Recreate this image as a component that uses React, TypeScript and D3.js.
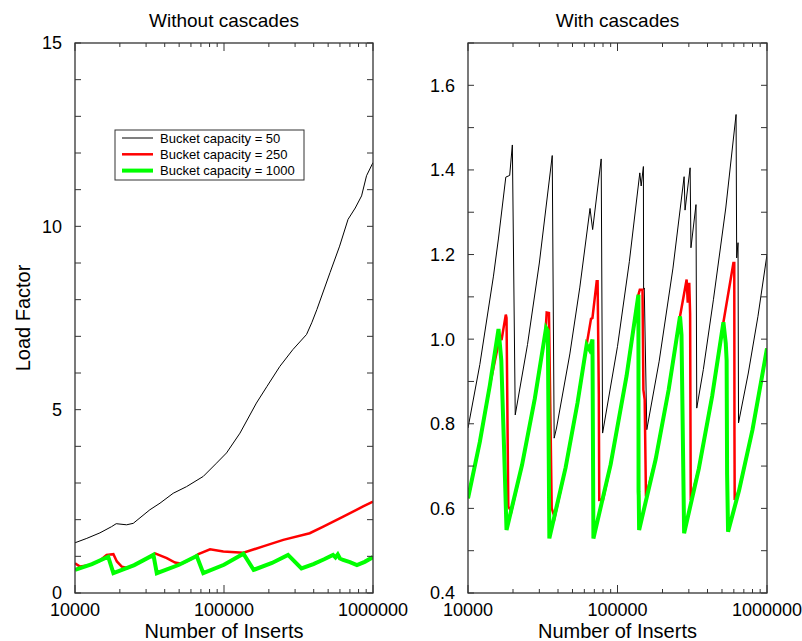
import React from 'react';
import * as d3 from 'd3';

// left panel: without cascades
const leftX50 = [10000, 12000, 14700, 17600, 18900, 22200, 24600, 31800, 37200, 45600, 56000, 72600, 89000, 104000, 128000, 165000, 194000, 237000, 290000, 358000, 388000, 420000, 515000, 597000, 680000, 760000, 838000, 905000, 1000000];
const leftY50 = [1.37, 1.49, 1.64, 1.81, 1.89, 1.86, 1.9, 2.27, 2.45, 2.72, 2.9, 3.18, 3.54, 3.82, 4.36, 5.18, 5.63, 6.18, 6.64, 7.05, 7.37, 7.73, 8.74, 9.46, 10.19, 10.5, 10.83, 11.38, 11.74];

const leftX250 = [10000, 10800, 12500, 14500, 16300, 18100, 19100, 20600, 22500, 24000, 29000, 34400, 41300, 46900, 52000, 60000, 67300, 80600, 99000, 135000, 183000, 250000, 376000, 464000, 631000, 858000, 1000000];
const leftY250 = [0.81, 0.72, 0.76, 0.87, 1.04, 1.06, 0.86, 0.72, 0.68, 0.73, 0.89, 1.08, 0.95, 0.83, 0.8, 0.92, 1.06, 1.19, 1.13, 1.1, 1.27, 1.45, 1.63, 1.81, 2.08, 2.36, 2.49];

const leftX1000 = [10000, 13000, 16700, 18100, 25000, 33600, 35400, 50000, 65600, 72600, 100000, 135000, 158000, 210000, 269000, 331000, 398000, 470000, 539000, 560000, 580000, 600000, 630000, 700000, 780000, 880000, 1000000];
const leftY1000 = [0.63, 0.79, 0.99, 0.54, 0.76, 1.04, 0.54, 0.77, 1.01, 0.54, 0.77, 1.07, 0.63, 0.82, 1.04, 0.67, 0.79, 0.92, 1.04, 0.97, 1.05, 0.94, 0.9, 0.84, 0.76, 0.85, 0.98];

// right panel: with cascades
const rightX50 = [10000, 12000, 14800, 16000, 17900, 19000, 19800, 20700, 25000, 30000, 36600, 37700, 39100, 48000, 56000, 65500, 68200, 77800, 79500, 100000, 120000, 141000, 144000, 149000, 149500, 151000, 157000, 190000, 235000, 279000, 283000, 306000, 310000, 335000, 339000, 375000, 438000, 530000, 621000, 627000, 640000, 645000, 750000, 870000, 1000000];
const rightY50 = [0.79, 0.94, 1.149, 1.239, 1.383, 1.387, 1.459, 0.821, 0.987, 1.18, 1.434, 0.766, 0.79, 0.965, 1.123, 1.309, 1.259, 1.426, 0.778, 0.983, 1.183, 1.393, 1.362, 1.408, 1.117, 1.121, 0.786, 0.948, 1.168, 1.384, 1.305, 1.405, 1.216, 1.318, 0.837, 0.928, 1.093, 1.31, 1.531, 1.192, 1.228, 0.802, 0.92, 1.054, 1.2];

const rightX250 = [10000, 12000, 14000, 16200, 16800, 17900, 18100, 18600, 19500, 23000, 28000, 33000, 33600, 34800, 36300, 38000, 45000, 54000, 62200, 66500, 68000, 72600, 73600, 75000, 75500, 80000, 90000, 115000, 138000, 141000, 147000, 149000, 152000, 155000, 180000, 220000, 262000, 290000, 295000, 302000, 306000, 309000, 350000, 430000, 511000, 596000, 604000, 606000, 608000, 650000, 800000, 1000000];
const rightY250 = [0.624, 0.757, 0.891, 0.999, 1.0, 1.058, 1.05, 0.604, 0.593, 0.703, 0.86, 1.017, 1.063, 1.062, 0.6, 0.579, 0.697, 0.849, 0.987, 1.048, 1.05, 1.137, 1.137, 0.87, 0.62, 0.621, 0.704, 0.913, 1.105, 1.117, 1.117, 0.88, 0.857, 0.628, 0.716, 0.881, 1.054, 1.141, 1.086, 1.133, 1.06, 0.62, 0.694, 0.866, 1.04, 1.18, 1.18, 0.77, 0.62, 0.642, 0.786, 0.978];

const rightX1000 = [10000, 12000, 14000, 16000, 16700, 17400, 18100, 23000, 28000, 33300, 34200, 35000, 45000, 54000, 62200, 65000, 68000, 69000, 90000, 115000, 138000, 138300, 138700, 139500, 180000, 220000, 262000, 268000, 279000, 350000, 430000, 511000, 530000, 537000, 541000, 549000, 650000, 800000, 1000000];
const rightY1000 = [0.624, 0.757, 0.891, 1.024, 0.95, 0.75, 0.549, 0.703, 0.86, 1.027, 1.02, 0.529, 0.697, 0.849, 0.987, 0.975, 0.999, 0.529, 0.704, 0.913, 1.105, 0.64, 0.63, 0.549, 0.716, 0.881, 1.054, 1.01, 0.541, 0.694, 0.866, 1.04, 0.99, 0.95, 0.68, 0.545, 0.642, 0.786, 0.978];

const seriesNames = ['Bucket capacity = 50', 'Bucket capacity = 250', 'Bucket capacity = 1000'];
const seriesColors = ['#000000', '#ff0000', '#00ff00'];
const seriesWidths = [1, 2.5, 4];

const xTickLabels = [10000, 100000, 1000000];
const leftYTickLabels = [0, 5, 10, 15];
const rightYTickLabels = [0.4, 0.6, 0.8, 1.0, 1.2, 1.4, 1.6];

const FONT = "'Liberation Sans', Arial, Helvetica, sans-serif";
const TOP = 43, BOTTOM = 593;

function Panel({ id, x0, x1, title, yDomain, yCount, yLabels, yFmt, series }) {
  const x = d3.scaleLog().domain([1e4, 1e6]).range([x0, x1]);
  const y = d3.scaleLinear().domain(yDomain).range([BOTTOM, TOP]);
  const line = d3.line<[number, number]>().x(d => x(d[0])).y(d => y(d[1]));
  const xt = x.ticks();
  const yt = y.ticks(yCount);
  const isMajor = (t: number) => Math.abs(Math.log10(t) - Math.round(Math.log10(t))) < 1e-9;

  return (
    <g fontFamily={FONT} fill="#000">
      <text x={(x0 + x1) / 2} y={27} textAnchor="middle" fontSize={19}>{title}</text>
      <defs>
        <clipPath id={id}><rect x={x0} y={TOP} width={x1 - x0} height={BOTTOM - TOP} /></clipPath>
      </defs>
      <g clipPath={`url(#${id})`}>
        {series.map((s, i) => (
          <path key={i} d={line(d3.zip(s.xs, s.ys) as [number, number][]) || ''}
            fill="none" stroke={seriesColors[i]} strokeWidth={seriesWidths[i]} />
        ))}
      </g>
      <rect x={x0} y={TOP} width={x1 - x0} height={BOTTOM - TOP} fill="none" stroke="#333" strokeWidth={1.3} />
      {xt.map((t, i) => {
        const len = isMajor(t) ? 8 : 4;
        return (
          <g key={'x' + i} stroke="#333" strokeWidth={1}>
            <line x1={x(t)} x2={x(t)} y1={BOTTOM} y2={BOTTOM - len} />
            <line x1={x(t)} x2={x(t)} y1={TOP} y2={TOP + len} />
          </g>
        );
      })}
      {yt.map((t, i) => (
        <g key={'y' + i} stroke="#333" strokeWidth={1}>
          <line x1={x0} x2={x0 + 6} y1={y(t)} y2={y(t)} />
          <line x1={x1} x2={x1 - 6} y1={y(t)} y2={y(t)} />
        </g>
      ))}
      {xTickLabels.map(t => (
        <text key={'xl' + t} x={x(t)} y={616} textAnchor="middle" fontSize={18}>{t}</text>
      ))}
      {yLabels.map(t => (
        <text key={'yl' + t} x={x0 - 13} y={y(t)} dy="0.36em" textAnchor="end" fontSize={18}>{yFmt(t)}</text>
      ))}
      <text x={(x0 + x1) / 2} y={638} textAnchor="middle" fontSize={20}>Number of Inserts</text>
    </g>
  );
}

export default function App() {
  const leftSeries = [
    { xs: leftX50, ys: leftY50 },
    { xs: leftX250, ys: leftY250 },
    { xs: leftX1000, ys: leftY1000 },
  ];
  const rightSeries = [
    { xs: rightX50, ys: rightY50 },
    { xs: rightX250, ys: rightY250 },
    { xs: rightX1000, ys: rightY1000 },
  ];
  return (
    <>
      <style>{'body{margin:0}'}</style>
      <svg width={802} height={641} style={{ display: 'block', background: '#fff' }}>
        <Panel id="clipL" x0={75} x1={373} title="Without cascades" yDomain={[0, 15]} yCount={15}
          yLabels={leftYTickLabels} yFmt={d3.format('d')} series={leftSeries} />
        <Panel id="clipR" x0={468} x1={767} title="With cascades" yDomain={[0.4, 1.7]} yCount={13}
          yLabels={rightYTickLabels} yFmt={d3.format('.1f')} series={rightSeries} />
        <text transform="translate(30,318) rotate(-90)" textAnchor="middle" fontSize={20} fontFamily={FONT}>Load Factor</text>
        {/* legend */}
        <g fontFamily={FONT}>
          <rect x={115} y={130} width={189} height={50} fill="#fff" stroke="#333" strokeWidth={1} />
          {seriesNames.map((n, i) => (
            <g key={n}>
              <line x1={122} x2={153} y1={138 + i * 16.3} y2={138 + i * 16.3} stroke={seriesColors[i]} strokeWidth={seriesWidths[i]} />
              <text x={160} y={138 + i * 16.3} dy="0.35em" fontSize={13}>{n}</text>
            </g>
          ))}
        </g>
      </svg>
    </>
  );
}
